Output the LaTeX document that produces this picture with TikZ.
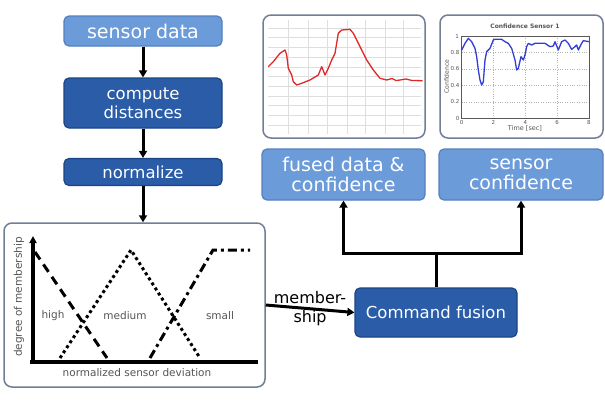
\documentclass[tikz,border=0pt]{standalone}
\usepackage{fontspec}
\setmainfont{DejaVu Sans}
\usetikzlibrary{arrows.meta}
\definecolor{lightfill}{RGB}{108,155,218}
\definecolor{lightdraw}{RGB}{85,128,192}
\definecolor{darkfill}{RGB}{42,92,168}
\definecolor{darkdraw}{RGB}{28,68,132}
\definecolor{panelline}{RGB}{112,126,150}
\definecolor{labgray}{RGB}{85,85,85}
\definecolor{gridgray}{RGB}{222,222,222}
\definecolor{redline}{RGB}{225,40,40}
\definecolor{blueline}{RGB}{50,60,215}
\begin{document}
\begin{tikzpicture}[x=1pt,y=-1pt,
  lightbox/.style={draw=lightdraw,line width=1.2pt,fill=lightfill,rounded corners=5pt,text=white,align=center,inner sep=0pt},
  darkbox/.style={draw=darkdraw,line width=1.2pt,fill=darkfill,rounded corners=5pt,text=white,align=center,inner sep=0pt},
  panel/.style={draw=panelline,line width=1.5pt,fill=white,rounded corners=8pt,inner sep=0pt},
  conn/.style={line width=3pt,black},
  arr/.style={conn,-{Triangle[length=7pt,width=8pt]}},
  bigtxt/.style={font=\fontsize{19}{20.5}\selectfont},
  midtxt/.style={font=\fontsize{16.5}{19}\selectfont},
  plottxt/.style={font=\fontsize{10.5}{12}\selectfont,text=labgray},
  tinytxt/.style={font=\fontsize{5.5}{6}\selectfont,text=labgray},
]
\useasboundingbox (0,0) rectangle (605,400);
\fill[white] (0,0) rectangle (605,400);

% left flow
\node[lightbox,bigtxt,minimum width=158,minimum height=30] (sd) at (143,31) {sensor data};
\node[darkbox,midtxt,minimum width=158,minimum height=50] (cd) at (143,103) {compute\\distances};
\node[darkbox,midtxt,minimum width=158,minimum height=27] (nm) at (143,172) {normalize};
\node[panel,minimum width=261,minimum height=164] (mf) at (134.5,305) {};

% right side
\node[darkbox,midtxt,minimum width=162,minimum height=49] (cf) at (436,312.5) {Command fusion};
\node[lightbox,bigtxt,minimum width=163,minimum height=51] (fd) at (343.5,174.5) {fused data \&\\confidence};
\node[lightbox,bigtxt,minimum width=164,minimum height=51] (sc) at (521,174.5) {sensor\\confidence};
\node[panel,minimum width=162,minimum height=123] (rp) at (344,76.5) {};
\node[panel,minimum width=163,minimum height=123] (bp) at (521.5,76.5) {};

% connectors
\draw[arr] (sd.south) -- (cd.north);
\draw[arr] (cd.south) -- (nm.north);
\draw[arr] (nm.south) -- (nm.south |- mf.north);
\draw[arr] (mf.east) -- (cf.west) node[midway,text=black,align=center,font=\fontsize{16}{19}\selectfont] (ml) {member-\\ship};
\coordinate (j) at (436,253);
\draw[conn] (cf.north) -- (j);
\draw[arr] (j) -| (fd.south);
\draw[arr] (j) -| (sc.south);

% membership plot
\draw[line width=3.5pt,-{Triangle[length=7pt,width=7pt]}] (33,362) -- (33,236);
\draw[line width=3.5pt] (30,362) -- (258,362);
\draw[line width=3pt,dash pattern=on 9pt off 6pt] (35,252) -- (107,358);
\draw[line width=3pt,dash pattern=on 3pt off 3pt] (60,358) -- (131,250) -- (200,358);
\draw[line width=3pt,dash pattern=on 9pt off 4pt on 3pt off 4pt] (150,358) -- (213,250) -- (250,250);
\node[plottxt] (hi) at (53,316) {high};
\node[plottxt] (me) at (125,316) {medium};
\node[plottxt] (sm) at (220,316) {small};
\node[plottxt,rotate=90] (dm) at (19,297) {degree of membership};
\node[plottxt] (ns) at (137,373) {normalized sensor deviation};

% red plot
\begin{scope}
\clip (268,20) rectangle (421,133);
\foreach \xx in {288,308,327,347,365,385,403} \draw[gridgray,line width=0.6pt] (\xx,18) -- (\xx,135);
\foreach \yy in {28,37.7,47.4,57.1,66.8,76.5,86.2,95.9,105.6,115.3,125} \draw[gridgray,line width=0.6pt] (266,\yy) -- (422,\yy);
\end{scope}
\draw[redline,line width=1.3pt,line join=round] plot coordinates {
(268.3,66.7) (273.3,61.7) (280,53.3) (285,50) (286.7,55) (288.3,68.3) (291.7,75) (293.3,81.7) (296.7,85) (301.7,83.3) (310,80) (318.3,75) (321.7,66.7) (325,75) (328.3,68.3) (331.7,60) (335,53.3) (338.3,33.3) (341.7,30) (350,29.3) (353.3,33.3) (360,46.7) (366.7,60) (373.3,70) (380,78.3) (386.7,80) (392,78.5) (396,80.5) (400,80) (406,79) (412,80.5) (422.7,80.7)};

% blue plot
\begin{scope}[shift={(435,10)},x=0.3333pt,y=-0.3333pt]
\foreach \yy in {127.4,176.8,226.2,275.6} \draw[gray!60,line width=0.4pt,dotted] (80,\yy) -- (462,\yy);
\foreach \xx in {175.5,271,366.5} \draw[gray!60,line width=0.4pt,dotted] (\xx,78) -- (\xx,325);
\draw[gray!70!black,line width=0.5pt] (80,78) rectangle (462,325);
\node[tinytxt] (t1) at (66,78) {1};
\node[tinytxt] (t2) at (60,127.4) {0.8};
\node[tinytxt] (t3) at (60,176.8) {0.6};
\node[tinytxt] (t4) at (60,226.2) {0.4};
\node[tinytxt] (t5) at (60,275.6) {0.2};
\node[tinytxt] (t6) at (68,325) {0};
\node[tinytxt] (x0) at (80,337) {0};
\node[tinytxt] (x2) at (175.5,337) {2};
\node[tinytxt] (x4) at (271,337) {4};
\node[tinytxt] (x6) at (366.5,337) {6};
\node[tinytxt] (x8) at (462,337) {8};
\node[tinytxt,font=\fontsize{6}{7}\bfseries] (tt) at (270,48) {Confidence Sensor 1};
\node[tinytxt,font=\fontsize{6.5}{7}\selectfont] (xl) at (270,355) {Time [sec]};
\node[tinytxt,font=\fontsize{6}{7}\selectfont,rotate=90] (yl) at (35,200) {Confidence};
\draw[blueline,line width=1.3pt,line join=round] plot coordinates {
(80,120) (90,100) (100,85) (110,95) (120,115) (125,140) (130,180) (135,210) (140,225) (145,215) (150,150) (155,125) (160,120) (165,115) (175,90) (180,88) (200,88) (210,95) (220,100) (230,115) (240,150) (245,180) (250,175) (258,140) (265,150) (270,135) (275,110) (280,100) (290,105) (300,100) (330,100) (345,110) (355,108) (360,95) (370,120) (380,95) (390,90) (400,100) (410,118) (420,110) (425,105) (430,120) (440,100) (445,92) (462,95)};
\end{scope}
\end{tikzpicture}
\end{document}
